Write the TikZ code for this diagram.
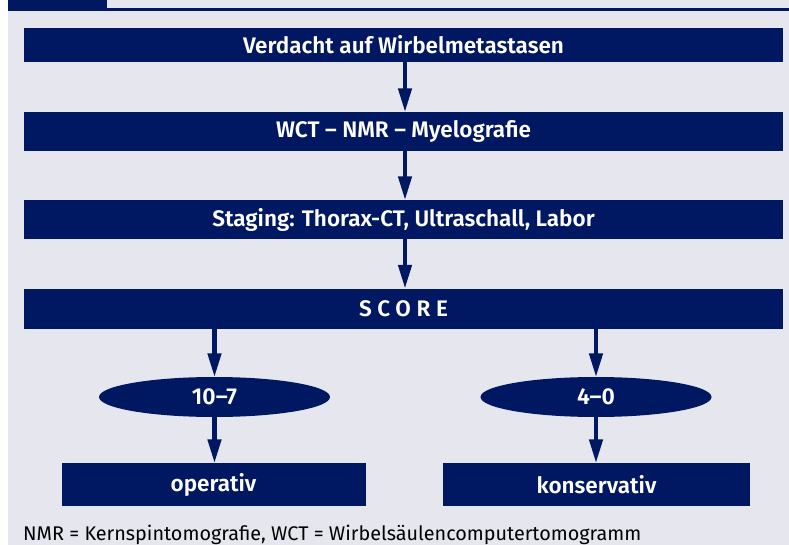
\documentclass[tikz,border=0pt]{standalone}
\usepackage{fontspec}
\setmainfont{Fira Sans}
\newfontfamily\boldcond{Fira Sans SemiBold}
\usetikzlibrary{arrows.meta,shapes.geometric}
\definecolor{navy}{RGB}{0,23,97}
\definecolor{panel}{RGB}{230,231,238}
\tikzset{
  x=1pt,y=-1pt,
  bar/.style={fill=navy,draw=none,text=white,font=\boldcond\fontsize{22.5}{24}\selectfont,inner sep=0pt},
  oval/.style={ellipse,fill=navy,draw=none,text=white,font=\boldcond\fontsize{23}{24}\selectfont,minimum width=231pt,minimum height=40pt,inner sep=0pt},
  flow/.style={draw=navy,line width=4.5pt,-{Triangle[length=24pt,width=13pt]},shorten >=-0.5pt}
}
\begin{document}
\begin{tikzpicture}
\useasboundingbox (0,0) rectangle (789,545);
\fill[white] (0,0) rectangle (789,545);
% top title strip
\fill[panel] (8,0) rectangle (789,10);
\fill[navy] (8,0) rectangle (107,10);
\fill[navy] (8,8.5) rectangle (789,11.5);
% panel
\fill[panel] (8,11.5) rectangle (789,545);
% boxes
\node[bar,minimum width=759pt,minimum height=34pt] (v) at (403.5,45) {Verdacht auf Wirbelmetastasen};
\node[bar,minimum width=759pt,minimum height=39pt] (w) at (403.5,131.5) {WCT – NMR – Myelografie};
\node[bar,minimum width=759pt,minimum height=39pt] (s) at (403.5,219.5) {Staging: Thorax-CT, Ultraschall, Labor};
\node[bar,minimum width=759pt,minimum height=40pt] (sc) at (403.5,308.5) {\addfontfeatures{LetterSpace=25}SCORE};
\node[oval] (e1) at (214.5,397) {10–7};
\node[oval] (e2) at (596,397) {4–0};
\node[bar,minimum width=304pt,minimum height=43pt] (op) at (213.5,484.5) {operativ};
\node[bar,minimum width=307pt,minimum height=43pt] (ko) at (596.5,484.5) {konservativ};
% connectors
\draw[flow] (v.south -| 405,0) -- (w.north -| 405,0);
\draw[flow] (w.south -| 405,0) -- (s.north -| 405,0);
\draw[flow] (s.south -| 405,0) -- (sc.north -| 405,0);
\draw[flow] (sc.south -| e1) -- (e1.north);
\draw[flow] (sc.south -| e2) -- (e2.north);
\draw[flow] (e1.south) -- (op.north -| e1);
\draw[flow] (e2.south) -- (ko.north -| e2);
% footnote
\node[anchor=base west,inner sep=0pt,font=\fontsize{19.8}{21}\selectfont,text=black] (fn) at (23,540) {NMR = Kernspintomografie, WCT = Wirbelsäulencomputertomogramm};
\end{tikzpicture}
\end{document}
